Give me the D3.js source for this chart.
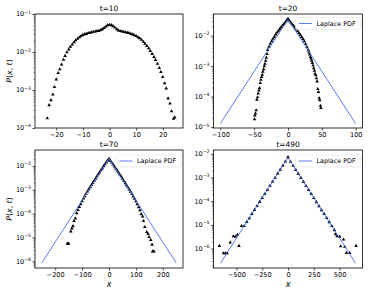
<!DOCTYPE html>
<html><head><meta charset="utf-8">
<script src="https://cdn.jsdelivr.net/npm/d3@7"></script>
<style>
body{margin:0;background:#fff}
svg{display:block}
text{font-family:"DejaVu Sans",sans-serif;fill:#000}
</style>
</head><body>
<svg id="c" width="368" height="294"></svg>
<script>
// ---------- data (x, P(x,t)) ----------
const t10 = [[-23.4,1.8e-4],[-22.7,4.0e-4],[-22.0,5.4e-4],[-21.3,7.6e-4],[-20.7,1.2e-3],[-20.0,1.9e-3],
 [-19.3,2.8e-3],[-18.7,3.5e-3],[-18.0,4.7e-3],[-17.3,6.3e-3],[-16.7,7.9e-3],[-16.0,9.8e-3],
 [-15.3,1.17e-2],[-14.7,1.38e-2],[-14.0,1.58e-2],[-13.3,1.82e-2],[-12.7,2.04e-2],[-12.0,2.24e-2],
 [-11.3,2.45e-2],[-10.7,2.63e-2],[-10.0,2.82e-2],[-9.3,2.95e-2],[-8.7,3.0e-2],[-8.0,3.16e-2],
 [-7.3,3.2e-2],[-6.7,3.3e-2],[-6.0,3.4e-2],[-5.3,3.45e-2],[-4.7,3.55e-2],[-4.0,3.6e-2],
 [-3.3,3.8e-2],[-2.7,4.0e-2],[-2.0,4.3e-2],[-1.3,4.7e-2],[-0.7,5.1e-2],[0,5.2e-2],
 [0.7,5.1e-2],[1.3,4.8e-2],[2.0,4.4e-2],[2.7,4.0e-2],[3.3,3.7e-2],[4.0,3.55e-2],
 [4.7,3.45e-2],[5.3,3.4e-2],[6.0,3.3e-2],[6.7,3.2e-2],[7.3,3.16e-2],[8.0,3.0e-2],
 [8.7,2.9e-2],[9.3,2.75e-2],[10.0,2.63e-2],[10.7,2.45e-2],[11.3,2.3e-2],[12.0,2.1e-2],
 [12.7,1.86e-2],[13.3,1.66e-2],[14.0,1.45e-2],[14.7,1.26e-2],[15.3,1.07e-2],[16.0,8.9e-3],
 [16.7,7.4e-3],[17.3,6.2e-3],[18.0,4.9e-3],[18.7,3.8e-3],[19.3,3.0e-3],[20.0,2.2e-3],
 [20.7,1.5e-3],[21.3,1.1e-3],[22.0,6.0e-4],[22.7,4.4e-4],[23.3,2.75e-4],[24.0,1.75e-4],[24.5,1.9e-4]];

const t20 = [[-49.5,1.8e-5],[-49,2.4e-5],[-48,2.8e-5],[-47,3.55e-5],[-46,7.9e-5],[-45,9.5e-5],
 [-44,1.26e-4],[-43,1.58e-4],[-42,1.9e-4],[-41,2.8e-4],[-40,3.55e-4],[-39,4.4e-4],[-38,5.2e-4],
 [-37,6.6e-4],[-36,7.9e-4],[-35,1.0e-3],[-34,1.2e-3],[-33,1.5e-3],[-32,1.9e-3],[-31,2.5e-3],
 [-30,3.4e-3],[-28,4.3e-3],[-26,5.4e-3],[-24,6.6e-3],[-22,7.9e-3],[-20,9.3e-3],[-18,1.1e-2],
 [-16,1.26e-2],[-14,1.45e-2],[-12,1.66e-2],[-10,1.9e-2],[-8,2.14e-2],[-6,2.4e-2],[-4,2.75e-2],
 [-2,3.16e-2],[0,3.6e-2],[2,3.1e-2],[4,2.7e-2],[6,2.35e-2],[8,2.1e-2],[10,1.86e-2],[12,1.62e-2],
 [14,1.42e-2],[16,1.23e-2],[18,1.07e-2],[20,9.1e-3],[22,7.8e-3],[24,6.5e-3],[26,5.3e-3],
 [28,4.2e-3],[30,3.3e-3],[31,2.8e-3],[32,2.4e-3],[33,2.0e-3],[34,1.74e-3],[35,1.5e-3],
 [36,1.26e-3],[37,1.05e-3],[38,8.5e-4],[39,7.1e-4],[40,5.6e-4],[41,5.0e-4],[42,4.0e-4],
 [43,3.16e-4],[44,1.78e-4],[45,1.41e-4],[46,8.9e-5],[47,7.6e-5],[48,5.0e-5],[48.5,4.2e-5]];

const t70 = [[-155,5.5e-6],[-150,5.5e-6],[-142,1.8e-5],[-138,2.4e-5],[-134,3.0e-5],[-130,4.9e-5],
 [-125,6.3e-5],[-120,1.05e-4],[-115,1.41e-4],[-110,1.9e-4],[-105,2.5e-4],[-100,3.3e-4],
 [-95,4.3e-4],[-90,5.4e-4],[-85,6.8e-4],[-80,8.5e-4],[-75,1.05e-3],[-70,1.29e-3],[-65,1.58e-3],
 [-60,1.95e-3],[-55,2.4e-3],[-50,2.95e-3],[-45,3.6e-3],[-40,4.5e-3],[-35,5.4e-3],[-30,6.6e-3],
 [-25,7.9e-3],[-20,9.8e-3],[-15,1.17e-2],[-10,1.41e-2],[-5,1.7e-2],[0,2.0e-2],[5,1.68e-2],
 [10,1.4e-2],[15,1.16e-2],[20,9.6e-3],[25,7.8e-3],[30,6.5e-3],[35,5.3e-3],[40,4.4e-3],
 [45,3.6e-3],[50,2.9e-3],[55,2.35e-3],[60,1.9e-3],[65,1.55e-3],[70,1.27e-3],[75,1.03e-3],
 [80,8.4e-4],[85,6.7e-4],[90,5.3e-4],[95,4.2e-4],[100,3.3e-4],[105,2.5e-4],[110,1.85e-4],
 [115,1.38e-4],[120,9.5e-5],[125,7.6e-5],[128,4.9e-5],[133,2.75e-5],[140,1.7e-5],[145,1.4e-5],
 [149,1.05e-5],[155,7.9e-6],[160,5.0e-6],[162,2.6e-6],[167,2.6e-6]];

const t490 = [[-665,1.3e-6],[-625,6.3e-7],[-605,6.3e-7],[-590,6.3e-7],[-560,1.8e-6],[-530,3.3e-6],
 [-510,3.2e-6],[-490,3.8e-6],[-475,1.3e-6],[-450,8.9e-6],[-425,8.9e-6],[-400,1.32e-5],
 [-375,1.9e-5],[-350,2.9e-5],[-325,4.3e-5],[-300,6.3e-5],[-275,9.3e-5],[-250,1.38e-4],
 [-225,2.0e-4],[-200,3.0e-4],[-175,4.5e-4],[-150,6.6e-4],[-125,9.8e-4],[-100,1.45e-3],
 [-75,2.14e-3],[-50,3.16e-3],[-25,4.7e-3],[0,7.2e-3],[25,4.6e-3],[50,3.1e-3],[75,2.1e-3],
 [100,1.42e-3],[125,9.6e-4],[150,6.5e-4],[175,4.4e-4],[200,3.0e-4],[225,2.0e-4],[250,1.35e-4],
 [275,9.1e-5],[300,6.2e-5],[325,4.2e-5],[350,2.9e-5],[375,1.95e-5],[400,1.3e-5],[425,8.9e-6],
 [450,6.0e-6],[460,4.0e-6],[475,3.3e-6],[500,3.2e-6],[510,1.26e-6],[538,2.4e-6],[550,1.2e-6],
 [566,6.6e-7],[598,6.6e-7],[660,1.3e-6]];

// Laplace PDF (piecewise straight on a log axis): x and P
const lap20X = [-100, 0, 100],  lap20P = [1.3e-5, 3.43e-2, 1.3e-5];
const lap70X = [-250, 0, 250],  lap70P = [8.5e-7, 2.04e-2, 8.5e-7];
const lap490X = [-655, 0, 655], lap490P = [2.4e-7, 6.9e-3, 2.4e-7];

const titles = ["t=10", "t=20", "t=70", "t=490"];
const xTicks10 = [-20, -10, 0, 10, 20];
const xTicks20 = [-100, -50, 0, 50, 100];
const xTicks70 = [-200, -100, 0, 100, 200];
const xTicks490 = [-500, -250, 0, 250, 500];
const yTicks10 = [1e-1, 1e-2, 1e-3, 1e-4];
const yTicks20 = [1e-2, 1e-3, 1e-4, 1e-5];
const yTicks70 = [1e-2, 1e-3, 1e-4, 1e-5, 1e-6];
const yTicks490 = [1e-2, 1e-3, 1e-4, 1e-5, 1e-6];
const legendLabel = "Laplace PDF";

// ---------- layout ----------
const panels = [
  {title:titles[0], pts:t10, lapX:null, lapP:null, box:[35,183,14,128], xd:[-28,27.6], yd:[1e-4,1e-1], xt:xTicks10, yt:yTicks10, ylab:true, xlab:false, legY:0},
  {title:titles[1], pts:t20, lapX:lap20X, lapP:lap20P, box:[213.5,362.5,14,128], xd:[-110,110], yd:[Math.pow(10,-5.03),Math.pow(10,-1.29)], xt:xTicks20, yt:yTicks20, ylab:false, xlab:false, legY:9.5},
  {title:titles[2], pts:t70, lapX:lap70X, lapP:lap70P, box:[35,183,150,268], xd:[-275,275], yd:[Math.pow(10,-6.28),Math.pow(10,-1.33)], xt:xTicks70, yt:yTicks70, ylab:true, xlab:true, legY:11},
  {title:titles[3], pts:t490, lapX:lap490X, lapP:lap490P, box:[213.5,362.5,150,268], xd:[-722,722], yd:[Math.pow(10,-6.82),Math.pow(10,-1.84)], xt:xTicks490, yt:yTicks490, ylab:false, xlab:true, legY:11}
];

const svg = d3.select("#c");
const defs = svg.append("defs");
const BLUE = "#4a6cf2";
const minusFmt = d => String(d).replace("-", "\u2212");

panels.forEach((p, i) => {
  const [L, R, T, B] = p.box;
  const x = d3.scaleLinear().domain(p.xd).range([L, R]);
  const y = d3.scaleLog().domain(p.yd).range([B, T]);
  const clipId = "clip" + i;
  defs.append("clipPath").attr("id", clipId).append("rect")
    .attr("x", L).attr("y", T).attr("width", R - L).attr("height", B - T);
  const g = svg.append("g");

  // markers
  const sym = d3.symbol().type(d3.symbolTriangle).size(5.5);
  g.append("g").attr("clip-path", `url(#${clipId})`)
    .selectAll("path").data(p.pts).join("path")
    .attr("d", sym)
    .attr("transform", d => `translate(${x(d[0])},${y(d[1])})`)
    .attr("fill", "#000");

  // Laplace line
  if (p.lapX) {
    const lineData = p.lapX.map((v, j) => [v, p.lapP[j]]);
    g.append("path").datum(lineData)
      .attr("clip-path", `url(#${clipId})`)
      .attr("d", d3.line().x(d => x(d[0])).y(d => y(d[1])))
      .attr("fill", "none").attr("stroke", BLUE).attr("stroke-width", 0.9);
  }

  // x axis
  const xa = g.append("g").attr("transform", `translate(0,${B})`)
    .call(d3.axisBottom(x).tickValues(p.xt).tickSize(2.5).tickPadding(1.5).tickFormat(minusFmt));
  xa.select(".domain").remove();
  xa.selectAll("line").attr("stroke", "#000").attr("stroke-width", 0.7);
  xa.selectAll("text").attr("font-size", 6.6).attr("font-family", "DejaVu Sans").attr("fill", "#000");

  // y axis minor ticks
  const [lo, hi] = p.yd;
  const minors = [];
  for (let e = Math.floor(Math.log10(lo)); e <= Math.ceil(Math.log10(hi)); e++) {
    for (let k = 2; k <= 9; k++) {
      const v = k * Math.pow(10, e);
      if (v >= lo && v <= hi) minors.push(v);
    }
  }
  const ym = g.append("g").attr("transform", `translate(${L},0)`)
    .call(d3.axisLeft(y).tickValues(minors).tickSize(1.4).tickFormat(""));
  ym.select(".domain").remove();
  ym.selectAll("line").attr("stroke", "#000").attr("stroke-width", 0.5);

  const ya = g.append("g").attr("transform", `translate(${L},0)`)
    .call(d3.axisLeft(y).tickValues(p.yt).tickSize(2.5).tickFormat(""));
  ya.select(".domain").remove();
  ya.selectAll("line").attr("stroke", "#000").attr("stroke-width", 0.7);

  // y tick labels 10^n
  p.yt.forEach(v => {
    const ex = Math.round(Math.log10(v));
    const t = g.append("text").attr("x", L - 4).attr("y", y(v) + 2.4)
      .attr("text-anchor", "end").attr("font-size", 6.5);
    t.append("tspan").text("10");
    t.append("tspan").attr("dy", -2.9).attr("font-size", 4.6).text(minusFmt(ex));
  });

  // frame
  g.append("rect").attr("x", L).attr("y", T).attr("width", R - L).attr("height", B - T)
    .attr("fill", "none").attr("stroke", "#000").attr("stroke-width", 0.8);

  // title
  g.append("text").attr("x", (L + R) / 2).attr("y", T - 3.5)
    .attr("text-anchor", "middle").attr("font-size", 7.4).text(p.title);

  // y label P(x, t)
  if (p.ylab) {
    const t = g.append("text")
      .attr("transform", `translate(11.5,${(T + B) / 2}) rotate(-90)`)
      .attr("text-anchor", "middle").attr("font-size", 7.8);
    t.append("tspan").attr("font-style", "italic").text("P");
    t.append("tspan").text("(");
    t.append("tspan").attr("font-style", "italic").text("x");
    t.append("tspan").text(", ");
    t.append("tspan").attr("font-style", "italic").text("t");
    t.append("tspan").text(")");
  }
  if (p.xlab) {
    g.append("text").attr("x", (L + R) / 2).attr("y", 286.5)
      .attr("text-anchor", "middle").attr("font-size", 8)
      .attr("font-style", "italic").text("x");
  }

  // legend
  if (p.lapX) {
    const ly = T + p.legY;
    const lg = g.append("g");
    lg.append("rect").attr("x", R - 67).attr("y", ly - 6).attr("width", 65).attr("height", 12)
      .attr("rx", 1.5).attr("fill", "#fff").attr("fill-opacity", 0.8)
      .attr("stroke", "#e2e2e2").attr("stroke-width", 0.6);
    lg.append("line").attr("x1", R - 63.5).attr("x2", R - 50.5).attr("y1", ly).attr("y2", ly)
      .attr("stroke", BLUE).attr("stroke-width", 0.9);
    lg.append("text").attr("x", R - 46).attr("y", ly + 2.3).attr("font-size", 6.4).text(legendLabel);
  }
});
</script>
</body></html>
